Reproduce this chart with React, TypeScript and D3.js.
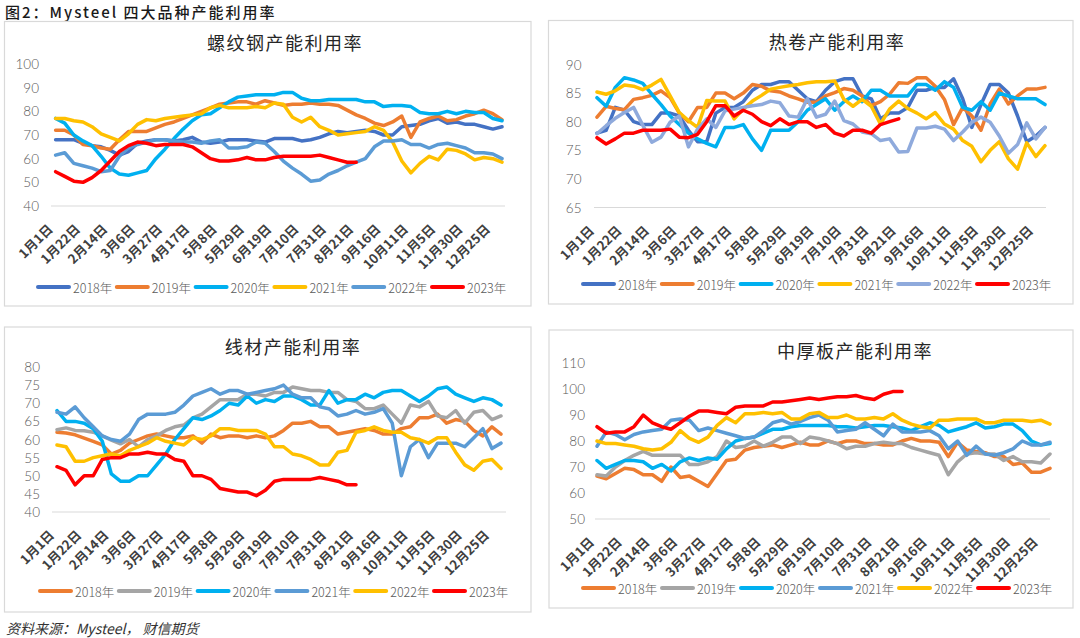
import * as d3 from 'd3';

// weekly categories, one label shown every third week
const weekIndex = Array.from({ length: 50 }, (_, i) => i);
const weekTicks = ['1月1日', '1月22日', '2月14日', '3月6日', '3月27日', '4月17日', '5月8日', '5月29日', '6月19日', '7月10日', '7月31日', '8月21日', '9月16日', '10月11日', '11月5日', '11月30日', '12月25日'];
const years = ['2018年', '2019年', '2020年', '2021年', '2022年', '2023年'];

// 螺纹钢
const rebar2018 = [68, 68, 68, 66.5, 65.5, 65, 63.5, 61.5, 63, 66.5, 67.5, 68, 68, 67.5, 68, 69, 67, 66.5, 67, 68, 68, 68, 67.5, 67, 68.5, 68.5, 68.5, 67.5, 68, 69, 70.5, 71.5, 71, 71.5, 72, 71.5, 70, 70, 73.5, 74, 74.5, 76, 77, 75, 75.5, 74.5, 74.5, 73.5, 72.5, 73.5];
const rebar2019 = [72, 72, 70, 66, 65.5, 64.5, 64, 68, 71.5, 71.5, 71.5, 73, 74.5, 75.5, 77, 78.5, 80, 81.5, 83, 83.5, 84, 84, 83, 84.5, 83.5, 82.5, 83, 83, 83.5, 83, 83, 82.5, 80.5, 78.5, 77, 75, 74, 75.5, 78, 69, 75.5, 77, 78, 76, 76.5, 78, 79, 80.5, 79, 76.5];
const rebar2020 = [77, 75, 70, 67.5, 65.5, 61, 56, 53.5, 53, 54, 55, 60, 64, 68.5, 72.5, 76, 78.5, 79, 81.5, 84, 86, 86.5, 87, 87, 87, 88, 88, 85.5, 84.5, 84.5, 85, 85, 85, 85, 84, 84, 82, 82.5, 82.5, 82, 79.5, 79, 79, 80, 79, 80, 79.5, 79.5, 77, 76];
const rebar2021 = [77, 77, 76, 75.5, 73.5, 70.5, 69, 67.5, 70.5, 74.5, 76.5, 76, 77, 77.5, 78, 78.5, 79, 81.5, 82.5, 81.5, 81.5, 81.5, 82, 81.5, 83.5, 83, 77.5, 75.5, 77.5, 73.5, 72, 70, 70.5, 71, 71.5, 73.5, 72, 67, 59, 54, 58, 61, 59.5, 64, 63.5, 62, 59.5, 60.5, 60, 58.5];
const rebar2022 = [61.5, 62.5, 58, 57, 56, 54.5, 55, 61, 64.5, 66, 67, 68, 68, 67.5, 67, 67, 66.5, 67.5, 68, 64.5, 64.5, 65, 67, 66.5, 63, 59, 56, 53.5, 50.5, 51, 53.5, 55, 57, 58.5, 60, 65, 67.5, 67.5, 68, 66, 66, 64.5, 66, 66.5, 65.5, 64.5, 62.5, 62.5, 62, 60];
const rebar2023 = [54.5, 52.5, 50.5, 50, 52, 55, 59, 63, 65.5, 67, 66.5, 65.5, 66, 66, 66, 65, 62.5, 60, 59, 59, 59.5, 60.5, 59.5, 59.5, 60.5, 61, 61, 61, 61, 61.5, 60.5, 59.5, 58.5, 58.5];

// 热卷
const hrc2018 = [78, 78.5, 82.5, 82, 80, 79.5, 79.5, 81.5, 81.5, 81, 78.5, 76.5, 76.5, 81.5, 82.5, 82.5, 83.5, 85.5, 86.5, 86.5, 87, 87, 85.5, 84, 83.5, 85.5, 87, 87.5, 87.5, 84.5, 84, 80.5, 81.5, 81.5, 82.5, 85.5, 85.5, 86, 86, 87.5, 84, 79, 83, 86.5, 86.5, 85, 81, 76.5, 77.5, 79];
const hrc2019 = [80.8, 82.7, 82.3, 82.1, 83.9, 84.2, 84.6, 85.4, 84.2, 81.5, 80, 82.5, 82.5, 85, 85, 84, 85, 86.5, 86.2, 85.4, 85.2, 84.5, 84, 83.4, 83.4, 84.5, 85.1, 85.8, 85.5, 84.5, 82.8, 83.5, 84.8, 86.8, 86.7, 87.7, 87.7, 86.2, 83.9, 79.5, 82.5, 81, 78.5, 83.1, 85.7, 83.1, 84.5, 85.7, 85.7, 86];
const hrc2020 = [84.2, 82.7, 86, 87.7, 87.3, 86.7, 84.8, 83, 81, 79.5, 78, 77, 76.2, 75.6, 79, 79, 79.5, 77, 75, 78.5, 78.5, 78.5, 80, 82, 83, 84, 82, 83.5, 84.5, 83.5, 85.5, 85.5, 84.5, 84.5, 84.5, 86.5, 86.5, 85.5, 87, 86, 82.5, 82, 83.5, 82, 85, 84.5, 84, 84, 84, 83];
const hrc2021 = [85.2, 84.8, 85.4, 86.4, 86.2, 85.6, 86.4, 87.4, 84.5, 81.6, 80.2, 79, 83.7, 83.6, 83.6, 80.5, 82.2, 83.6, 84.6, 85.7, 86, 86.3, 86.5, 86.8, 87, 87, 87.1, 83.9, 82.7, 83.9, 82.7, 79.6, 82.2, 83.6, 82.3, 81.5, 80.5, 81.6, 79.6, 78.7, 76.7, 75.7, 73, 75, 76.5, 73.5, 71.7, 76.3, 73.9, 75.8];
const hrc2022 = [77.9, 79.3, 80.6, 81.6, 82.5, 79.4, 76.4, 77.3, 79.9, 81, 75.6, 78.7, 80.5, 79, 81.9, 82.2, 82.5, 82.8, 83, 83.6, 83.3, 81, 80.8, 84, 80.8, 81.3, 83.6, 80.2, 79.6, 78.2, 77.9, 76.7, 77, 74.7, 74.8, 78.9, 78.9, 79.2, 78.7, 76.7, 78.2, 79.9, 80.8, 79.9, 77.5, 74.5, 76, 79.8, 77, 79];
const hrc2023 = [77.2, 76.1, 77, 78, 78, 78.5, 78.5, 78.5, 78.7, 77.3, 77.2, 77.8, 80, 82.8, 82.8, 81, 82, 81.3, 80, 79.3, 80.5, 79.5, 80, 80, 79, 79.5, 78, 77.5, 78.5, 78.5, 78, 79.5, 80, 80.5];

// 线材
const wire2018 = [62, 61.8, 61.3, 60.4, 59.5, 58.5, 56, 57, 59, 60, 61, 61.5, 61, 60.5, 60.5, 61, 59, 61.5, 60.5, 61, 61, 60.5, 61, 60.5, 61, 62.5, 64.5, 64.5, 65, 63.5, 63.5, 61.5, 62, 62.5, 63, 62.5, 61.5, 61.5, 63, 63.5, 66, 66, 67, 64.5, 65.5, 65, 62.5, 61, 63.5, 61.5];
const wire2019 = [62.7, 63.2, 62.5, 62.4, 62, 61, 59.8, 58.8, 60, 58, 60, 61, 62.5, 63.5, 64, 66, 67, 69, 71, 71, 71, 72.5, 72.5, 72, 73, 73, 74.5, 74, 73.5, 73.5, 73, 73, 71, 70.5, 68.5, 68.5, 69.5, 67, 64.5, 69.5, 69, 70.5, 66.5, 66, 68, 64.5, 67.5, 68, 65.5, 66.5];
const wire2020 = [68, 65, 65, 64.5, 63, 59.5, 50.5, 48.5, 48.5, 50, 50, 53, 56, 60, 63, 66, 65.5, 66.5, 68, 70, 69.5, 72, 70, 71, 70.5, 72, 72, 71, 69.5, 69.5, 73.5, 70, 71, 71, 72.5, 71.5, 73, 73.5, 73.5, 72, 70.5, 72, 74, 74.5, 72.5, 71.5, 70.5, 71.5, 71, 69.5];
const wire2021 = [67.5, 67, 69, 66, 63.5, 61, 60, 59.5, 61.5, 65.5, 67, 67, 67, 67.5, 69.5, 72, 73, 74, 72.5, 73.5, 73.5, 72.5, 73, 73.5, 74, 75, 72.5, 71.5, 71.5, 69, 68.5, 66.5, 67, 68, 67, 67.5, 68.5, 64.5, 50, 58, 60, 55, 59, 59, 59, 58, 60.5, 63, 57.5, 59];
const wire2022 = [58.5, 58, 54, 54, 55, 55.5, 56, 55.5, 57, 58, 59, 60.5, 59.5, 59, 58.5, 60.5, 60, 61, 63, 63, 62.5, 62.5, 62.5, 61.5, 58, 58, 56, 55.5, 54.5, 53, 53, 56.5, 57, 62, 62.5, 63.5, 62.5, 62, 62, 60.5, 60, 59, 60.5, 60.5, 56.5, 53, 51.5, 54, 54.5, 52];
const wire2023 = [52.5, 51.5, 47.5, 50, 50, 54.5, 55, 55, 56, 56, 56.5, 56, 56, 54.5, 54, 50, 50, 49, 46.5, 46, 45.5, 45.5, 44.5, 46, 48.5, 49, 49, 49, 49, 49.5, 49, 48.5, 47.5, 47.5];

// 中厚板
const plate2018 = [66.5, 65.5, 67.5, 69.5, 69, 67, 67, 64.5, 70, 66, 66.5, 64.5, 62.5, 67.5, 72.5, 73, 76.5, 77.5, 78, 78.5, 77.5, 78.5, 79.5, 78.5, 78.5, 80, 79, 80, 80, 79, 79, 78.5, 78.5, 80, 81, 80, 80, 79.5, 74, 79.5, 76.5, 76, 75.5, 74, 74, 71, 71.5, 68, 68, 69.5];
const plate2019 = [67, 66.5, 70, 72.5, 74.5, 76, 74.5, 74.5, 74.5, 74.5, 71, 71, 72, 74, 80, 77.5, 78, 80, 78, 79.5, 81.5, 81.5, 79, 81.5, 81, 80, 79, 77, 78, 78, 79, 79.5, 79, 79, 77.5, 76.5, 75.5, 74.5, 67, 72, 75, 75.5, 75, 75, 72.5, 74, 72, 72, 71.5, 75];
const plate2020 = [72.5, 69.5, 71, 72.5, 72.5, 72, 69.5, 71, 68.5, 72, 73.5, 72.5, 73.5, 73, 77, 80, 81, 81.5, 83, 84.5, 84.5, 85.5, 86, 86, 86, 86, 85.5, 85.5, 85, 85.5, 86, 86, 85.5, 85, 84, 85.5, 87, 86, 83.5, 84.5, 85.5, 87, 85, 85.5, 86.5, 86.5, 84, 80, 78.5, 79];
const plate2021 = [78, 83.5, 82.5, 80.5, 82.5, 83.5, 84, 84.5, 88, 88.5, 88, 84, 85, 84, 83, 82, 81, 81.5, 84, 87, 88, 86.5, 87.5, 89, 90, 88, 83.5, 84, 84.5, 87, 84.5, 82, 86.5, 83.5, 83.5, 83.5, 84, 82, 77, 80, 74.5, 78, 75, 74.5, 75.5, 77, 80, 78.5, 78.5, 79.5];
const plate2022 = [80, 79, 79, 78.5, 78, 77, 76.5, 77, 79.5, 84, 81, 79.5, 81.5, 86, 89, 87, 90.5, 90.5, 91, 90.5, 91, 88.5, 88.5, 90.5, 91, 89, 89, 90, 88.5, 88.5, 89, 88.5, 90.5, 88, 86.5, 85.5, 85, 88, 88, 88.5, 88.5, 88.5, 87, 87, 88, 88, 88, 87.5, 88, 86.5];
const plate2023 = [85.5, 83, 83.5, 83.5, 85.5, 90, 87, 85.5, 84.5, 87, 89.5, 91.5, 91.5, 91, 90.5, 93, 93.5, 93.5, 93.5, 95, 95, 95.5, 96, 96.5, 96, 96.5, 97, 97, 97.5, 96.5, 96, 98, 99, 99];

const paletteA = ['#4472C4', '#ED7D31', '#00B0F0', '#FFC000', '#5B9BD5', '#FF0000'];
const paletteB = ['#4472C4', '#ED7D31', '#00B0F0', '#FFC000', '#8FAADC', '#FF0000'];
const paletteC = ['#ED7D31', '#A5A5A5', '#00B0F0', '#5B9BD5', '#FFC000', '#FF0000'];

type Panel = {
  title: string;
  titleX: number;
  titleY: number;
  box: [number, number, number, number];
  yDomain: [number, number];
  yStep: number;
  yRange: [number, number];
  yLabelX: number;
  xRange: [number, number];
  axis: [number, number];
  legendX: number;
  legendY: number;
  legendStep: number;
  colors: string[];
  series: number[][];
};

const panels: Panel[] = [
  {
    title: '螺纹钢产能利用率', titleX: 285, titleY: 42,
    box: [4.5, 21.5, 531, 306],
    yDomain: [40, 100], yStep: 10, yRange: [206, 64], yLabelX: 39,
    xRange: [55.6, 502], axis: [51, 505],
    legendX: 38, legendY: 287, legendStep: 78.8,
    colors: paletteA,
    series: [rebar2018, rebar2019, rebar2020, rebar2021, rebar2022, rebar2023],
  },
  {
    title: '热卷产能利用率', titleX: 837, titleY: 41,
    box: [548.5, 20.5, 1073, 304],
    yDomain: [65, 90], yStep: 5, yRange: [207.5, 64.5], yLabelX: 581.5,
    xRange: [597, 1045], axis: [594, 1046],
    legendX: 583, legendY: 284, legendStep: 78.8,
    colors: paletteB,
    series: [hrc2018, hrc2019, hrc2020, hrc2021, hrc2022, hrc2023],
  },
  {
    title: '线材产能利用率', titleX: 293, titleY: 346,
    box: [4.5, 327, 531, 612],
    yDomain: [40, 80], yStep: 5, yRange: [512, 367], yLabelX: 40,
    xRange: [57, 501], axis: [52, 506],
    legendX: 40, legendY: 591, legendStep: 78.8,
    colors: paletteC,
    series: [wire2018, wire2019, wire2020, wire2021, wire2022, wire2023],
  },
  {
    title: '中厚板产能利用率', titleX: 855, titleY: 350,
    box: [549, 330, 1073, 608],
    yDomain: [50, 110], yStep: 10, yRange: [519, 363], yLabelX: 585,
    xRange: [597, 1050], axis: [595, 1050],
    legendX: 583, legendY: 588, legendStep: 79,
    colors: paletteC,
    series: [plate2018, plate2019, plate2020, plate2021, plate2022, plate2023],
  },
];

const cjk = '"Noto Sans CJK SC", "Noto Sans", sans-serif';

function ChartPanel({ p }: { p: Panel }) {
  const x = d3.scalePoint<number>().domain(weekIndex).range(p.xRange);
  const y = d3.scaleLinear().domain(p.yDomain).range(p.yRange);
  const line = d3
    .line<number>()
    .x((_, i) => x(i) ?? 0)
    .y((d) => y(d));
  const yTicks = d3.range(p.yDomain[0], p.yDomain[1] + 0.001, p.yStep);
  const axisY = y(p.yDomain[0]);
  const [bx0, by0, bx1, by1] = p.box;

  return (
    <g>
      <rect x={bx0} y={by0} width={bx1 - bx0} height={by1 - by0} fill="#fff" stroke="#d9d9d9" strokeWidth={1.2} />
      <text x={p.titleX} y={p.titleY} textAnchor="middle" dominantBaseline="central" fontFamily={cjk} fontSize={18} letterSpacing={1.5} fill="#262626">
        {p.title}
      </text>
      {yTicks.map((t) => (
        <text key={t} x={p.yLabelX} y={y(t)} textAnchor="end" dominantBaseline="central" fontFamily="Lato, 'Open Sans', sans-serif" fontWeight={300} fontSize={13.5} fill="#595959">
          {t}
        </text>
      ))}
      <line x1={p.axis[0]} x2={p.axis[1]} y1={axisY} y2={axisY} stroke="#d9d9d9" strokeWidth={1.2} />
      {/* date labels slanted at 45°, ending under their week */}
      {weekTicks.map((label, k) => {
        const px = (x(k * 3) ?? 0) - 2;
        const py = axisY + 24;
        return (
          <text key={label} x={px} y={py} textAnchor="end" transform={`rotate(-45, ${px}, ${py})`} fontFamily={cjk} fontWeight={600} fontSize={13} fill="#404040">
            {label}
          </text>
        );
      })}
      {p.series.map((values, si) => (
        <path key={si} d={line(values) ?? ''} fill="none" stroke={p.colors[si]} strokeWidth={3.5} strokeLinejoin="round" strokeLinecap="round" />
      ))}
      {years.map((name, si) => {
        const lx = p.legendX + si * p.legendStep;
        return (
          <g key={name}>
            <line x1={lx} x2={lx + 31} y1={p.legendY} y2={p.legendY} stroke={p.colors[si]} strokeWidth={4} strokeLinecap="round" />
            <text x={lx + 35} y={p.legendY} dominantBaseline="central" fontFamily={cjk} fontWeight={300} fontSize={12.5} fill="#595959">
              {name}
            </text>
          </g>
        );
      })}
    </g>
  );
}

export default function App() {
  return (
    <div style={{ position: 'absolute', left: 0, top: 0 }}>
      <svg width={1080} height={638} style={{ display: 'block', background: '#fff' }}>
        <text x={5} y={11} dominantBaseline="central" fontFamily={cjk} fontWeight={500} fontSize={15} letterSpacing={2} fill="#1a1a1a">
          图2：Mysteel  四大品种产能利用率
        </text>
        {panels.map((p) => (
          <ChartPanel key={p.title} p={p} />
        ))}
        <text x={6} y={628} dominantBaseline="central" fontFamily={cjk} fontStyle="italic" fontSize={14} fill="#333">
          资料来源：Mysteel，  财信期货
        </text>
      </svg>
    </div>
  );
}
